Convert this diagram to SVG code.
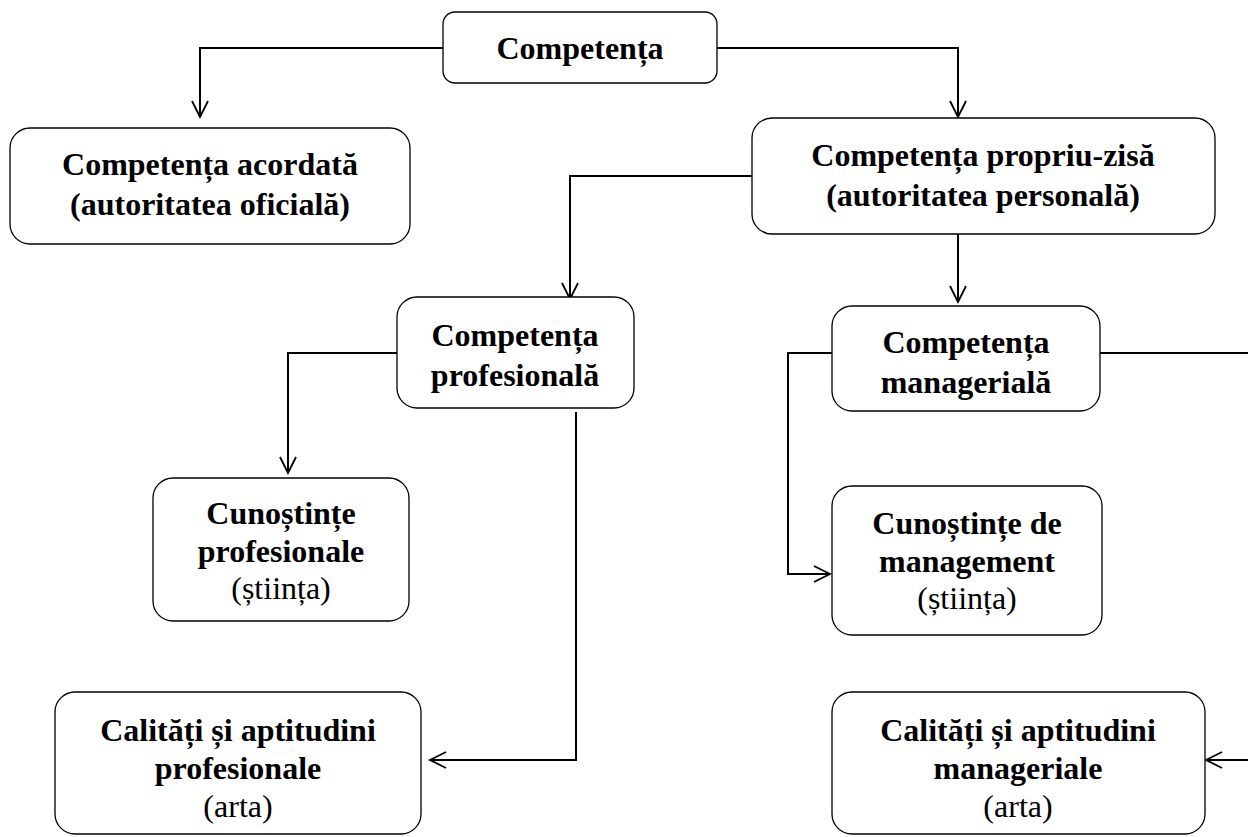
<svg xmlns="http://www.w3.org/2000/svg" width="1248" height="837" viewBox="0 0 1248 837">
  <style>
    .box { fill: #fff; stroke: #000; stroke-width: 1.3; }
    .t { font-family: "Liberation Serif", "Times New Roman", serif; font-size: 32px; text-anchor: middle; fill: #000; }
    .b { font-weight: bold; }
    .wire { fill: none; stroke: #000; stroke-width: 2; }
  </style>
  <defs>
    <marker id="arrow" markerUnits="userSpaceOnUse" markerWidth="20" markerHeight="20" refX="17" refY="9" orient="auto">
      <path d="M1,1 L17,9 L1,17" fill="none" stroke="#000" stroke-width="1.8"/>
    </marker>
  </defs>
  <rect width="1248" height="837" fill="#fff"/>

  <g id="connectors">
    <path class="wire" d="M443,48 H200 V117" marker-end="url(#arrow)"/>
    <path class="wire" d="M717,48 H958 V117" marker-end="url(#arrow)"/>
    <path class="wire" d="M752,176 H570 V299" marker-end="url(#arrow)"/>
    <path class="wire" d="M958,234 V302" marker-end="url(#arrow)"/>
    <path class="wire" d="M397,353 H288 V473" marker-end="url(#arrow)"/>
    <path class="wire" d="M576,412 V760 H430" marker-end="url(#arrow)"/>
    <path class="wire" d="M832,353 H788 V574 H830" marker-end="url(#arrow)"/>
    <path class="wire" d="M1100,353 H1248"/>
    <path class="wire" d="M1248,760 H1206" marker-end="url(#arrow)"/>
  </g>

  <g id="competenta">
    <rect class="box" x="443" y="12" width="274" height="71" rx="12"/>
    <text class="t b" x="580" y="59">Competența</text>
  </g>

  <g id="competenta-acordata">
    <rect class="box" x="10" y="128" width="400" height="116" rx="20"/>
    <text class="t b" x="210" y="175">Competența acordată</text>
    <text class="t b" x="210" y="215">(autoritatea oficială)</text>
  </g>

  <g id="competenta-propriu-zisa">
    <rect class="box" x="752" y="118" width="463" height="116" rx="20"/>
    <text class="t b" x="983" y="166">Competența propriu-zisă</text>
    <text class="t b" x="983" y="206">(autoritatea personală)</text>
  </g>

  <g id="competenta-profesionala">
    <rect class="box" x="397" y="297" width="237" height="111" rx="20"/>
    <text class="t b" x="515" y="346">Competența</text>
    <text class="t b" x="515" y="386">profesională</text>
  </g>

  <g id="competenta-manageriala">
    <rect class="box" x="832" y="306" width="268" height="105" rx="20"/>
    <text class="t b" x="966" y="353">Competența</text>
    <text class="t b" x="966" y="393">managerială</text>
  </g>

  <g id="cunostinte-profesionale">
    <rect class="box" x="153" y="478" width="256" height="143" rx="20"/>
    <text class="t b" x="281" y="524">Cunoștințe</text>
    <text class="t b" x="281" y="562">profesionale</text>
    <text class="t" x="281" y="599">(știința)</text>
  </g>

  <g id="cunostinte-management">
    <rect class="box" x="832" y="486" width="270" height="149" rx="20"/>
    <text class="t b" x="967" y="534">Cunoștințe de</text>
    <text class="t b" x="967" y="572">management</text>
    <text class="t" x="967" y="609">(știința)</text>
  </g>

  <g id="calitati-profesionale">
    <rect class="box" x="55" y="692" width="366" height="142" rx="20"/>
    <text class="t b" x="238" y="741">Calități și aptitudini</text>
    <text class="t b" x="238" y="779">profesionale</text>
    <text class="t" x="238" y="817">(arta)</text>
  </g>

  <g id="calitati-manageriale">
    <rect class="box" x="832" y="692" width="373" height="142" rx="20"/>
    <text class="t b" x="1018" y="741">Calități și aptitudini</text>
    <text class="t b" x="1018" y="779">manageriale</text>
    <text class="t" x="1018" y="817">(arta)</text>
  </g>
</svg>
